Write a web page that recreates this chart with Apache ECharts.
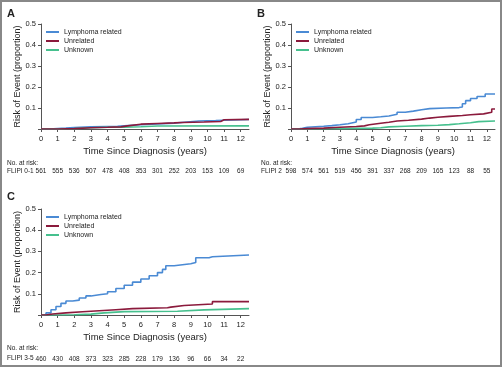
<!DOCTYPE html>
<html>
<head>
<meta charset="utf-8">
<script src="https://cdn.jsdelivr.net/npm/echarts@6/dist/echarts.min.js"></script>
<style>
  html, body { margin: 0; padding: 0; background: #fff; }
  #chart { width: 502px; height: 367px; }
</style>
</head>
<body>
<div id="chart"></div>
<script>
// cumulative risk curves, [years, proportion]
const lymphomaA = [[0, 0], [0.5, 0.002], [1, 0.004], [1.5, 0.007], [2, 0.01], [3, 0.012], [4, 0.013], [4.6, 0.015], [5, 0.02], [6, 0.024], [7, 0.028], [8, 0.032], [8.6, 0.038], [9.5, 0.04], [10.5, 0.042], [11, 0.045], [12.5, 0.045]]
const unrelatedA = [[0, 0], [1, 0.002], [2, 0.006], [3, 0.008], [4, 0.01], [4.8, 0.015], [5.2, 0.023], [6, 0.026], [7, 0.029], [8, 0.031], [8.5, 0.033], [9.8, 0.036], [10.8, 0.044], [11, 0.046], [12.5, 0.046]]
const unknownA = [[0, 0], [1, 0.002], [2, 0.006], [3, 0.008], [4, 0.009], [5, 0.011], [6, 0.014], [7, 0.015], [12.5, 0.015]]

const lymphomaB = [[0, 0], [0.4, 0.003], [0.7, 0.008], [1, 0.011], [1.5, 0.013], [2, 0.016], [2.5, 0.02], [3, 0.025], [3.5, 0.033], [4, 0.045], [4.3, 0.055], [5, 0.058], [5.5, 0.062], [6, 0.07], [6.5, 0.08], [7, 0.085], [7.5, 0.092], [8, 0.097], [8.5, 0.1], [9.5, 0.102], [10.3, 0.105], [10.5, 0.12], [10.7, 0.135], [11, 0.145], [11.4, 0.155], [11.9, 0.167], [12.5, 0.167]]
const unrelatedB = [[0, 0], [0.5, 0.002], [1, 0.004], [2, 0.008], [3, 0.012], [4, 0.015], [4.5, 0.02], [4.8, 0.027], [5.5, 0.032], [6, 0.038], [6.5, 0.042], [7.2, 0.047], [8, 0.052], [8.5, 0.056], [9, 0.06], [9.7, 0.064], [10.5, 0.068], [11, 0.072], [11.8, 0.08], [12.3, 0.095], [12.5, 0.095]]
const unknownB = [[0, 0], [1, 0.001], [2, 0.002], [3, 0.003], [4, 0.004], [5, 0.006], [5.5, 0.01], [6, 0.013], [7, 0.016], [8, 0.018], [9, 0.021], [9.7, 0.025], [10.3, 0.03], [11, 0.035], [11.5, 0.038], [12.5, 0.038]]

const lymphomaC = [[0, 0], [0.3, 0.01], [0.6, 0.025], [0.9, 0.04], [1.2, 0.055], [1.5, 0.066], [1.9, 0.07], [2.3, 0.08], [2.7, 0.09], [3, 0.097], [3.6, 0.1], [4, 0.11], [4.5, 0.125], [5, 0.14], [5.5, 0.155], [6, 0.17], [6.5, 0.185], [7, 0.2], [7.3, 0.215], [7.5, 0.232], [8, 0.237], [8.5, 0.242], [9, 0.248], [9.3, 0.27], [10.1, 0.275], [10.3, 0.283], [12.5, 0.283]]
const unrelatedC = [[0, 0], [0.3, 0.005], [0.7, 0.01], [1.5, 0.015], [2.5, 0.02], [3.5, 0.025], [4.5, 0.03], [5.5, 0.034], [7.6, 0.037], [7.8, 0.045], [8.6, 0.052], [10.3, 0.063], [12.5, 0.063]]
const unknownC = [[0, 0], [1, 0.001], [2, 0.004], [3, 0.01], [3.8, 0.016], [5, 0.018], [8.2, 0.02], [8.3, 0.024], [9.8, 0.03], [12.5, 0.03]]

// numbers at risk, one per year 0..12
const riskA = [561, 555, 536, 507, 478, 408, 353, 301, 252, 203, 153, 109, 69]
const riskB = [598, 574, 561, 519, 456, 391, 337, 268, 209, 165, 123, 88, 55]
const riskC = [460, 430, 408, 373, 323, 285, 228, 179, 136, 96, 66, 34, 22]

const years = [0, 1, 2, 3, 4, 5, 6, 7, 8, 9, 10, 11, 12]
const names = ['Lymphoma related', 'Unrelated', 'Unknown']
const colors = ['#4a8ad4', '#8b1a3c', '#46c08e']

const FONT = '"Liberation Sans", Arial, sans-serif'
const AXIS = '#555'
const TXT = '#222'

const panels = [
  { grid: { left: 41, top: 24, width: 208, height: 105 }, risk: riskA, curves: [lymphomaA, unrelatedA, unknownA], riskOffset: 30 },
  { grid: { left: 291, top: 24, width: 204, height: 105 }, risk: riskB, curves: [lymphomaB, unrelatedB, unknownB], riskOffset: 30 },
  { grid: { left: 41, top: 209, width: 208, height: 106 }, risk: riskC, curves: [lymphomaC, unrelatedC, unknownC], riskOffset: 32 },
]

const xAxis = []
const yAxis = []
const series = []
const legend = []

panels.forEach((p, i) => {
  xAxis.push({
    type: 'value', gridIndex: i, min: 0, max: 12.5,
    name: 'Time Since Diagnosis (years)', nameLocation: 'middle', nameGap: 17,
    nameTextStyle: { fontFamily: FONT, fontSize: 9.5, color: TXT },
    axisLine: { show: true, lineStyle: { color: AXIS, width: 1 } },
    axisTick: { show: true, length: 3, customValues: years, lineStyle: { color: AXIS } },
    axisLabel: { customValues: years, margin: 6, fontFamily: FONT, fontSize: 7.5, color: TXT },
    splitLine: { show: false },
  })
  // at-risk row as a second bottom axis
  xAxis.push({
    type: 'value', gridIndex: i, min: 0, max: 12.5, position: 'bottom', offset: p.riskOffset,
    axisLine: { show: false }, axisTick: { show: false }, splitLine: { show: false },
    axisLabel: {
      customValues: years, margin: 9, fontFamily: FONT, fontSize: 6.5, color: TXT,
      formatter: v => p.risk[v],
    },
  })
  yAxis.push({
    type: 'value', gridIndex: i, min: 0, max: 0.5, interval: 0.1,
    name: 'Risk of Event (proportion)', nameLocation: 'middle', nameGap: 19,
    nameTextStyle: { fontFamily: FONT, fontSize: 9, color: TXT },
    axisLine: { show: true, lineStyle: { color: AXIS, width: 1 } },
    axisTick: { show: true, length: 3, lineStyle: { color: AXIS } },
    axisLabel: { margin: 5, fontFamily: FONT, fontSize: 7.5, color: TXT, formatter: v => (v === 0 ? '' : v.toFixed(1)) },
    splitLine: { show: false },
  })
  p.curves.forEach((d, k) => {
    series.push({
      name: names[k], type: 'line', step: 'end', data: d,
      xAxisIndex: i * 2, yAxisIndex: i,
      symbol: 'none', color: colors[k],
      lineStyle: { width: 1.6, color: colors[k] },
      z: k === 1 ? 4 : 3,
    })
  })
  legend.push({
    data: names, orient: 'vertical', left: p.grid.left + 5, top: p.grid.top + 4, padding: 0,
    icon: 'rect', itemWidth: 13, itemHeight: 2, itemGap: 1,
    textStyle: { fontFamily: FONT, fontSize: 7, color: TXT, lineHeight: 8 },
  })
})

function txt(x, y, text, size, weight) {
  return {
    type: 'text', x, y,
    style: { text, fontFamily: FONT, fontSize: size, fontWeight: weight || 'normal', fill: TXT, verticalAlign: 'middle' },
  }
}

const chart = echarts.init(document.getElementById('chart'))
chart.setOption({
  animation: false,
  backgroundColor: '#fff',
  grid: panels.map(p => p.grid),
  xAxis, yAxis, series, legend,
  graphic: [
    { type: 'rect', shape: { x: 1, y: 1, width: 500, height: 365 }, style: { fill: 'none', stroke: '#888', lineWidth: 2 } },
    txt(7, 13.5, 'A', 11, 'bold'),
    txt(257, 13.5, 'B', 11, 'bold'),
    txt(7, 197, 'C', 11, 'bold'),
    txt(7, 163, 'No. at risk:', 6.5),
    txt(7, 171, 'FLIPI 0-1', 6.5),
    txt(261, 163, 'No. at risk:', 6.5),
    txt(261, 171, 'FLIPI 2', 6.5),
    txt(7, 348, 'No. at risk:', 6.5),
    txt(7, 358, 'FLIPI 3-5', 6.5),
  ],
})
</script>
</body>
</html>
